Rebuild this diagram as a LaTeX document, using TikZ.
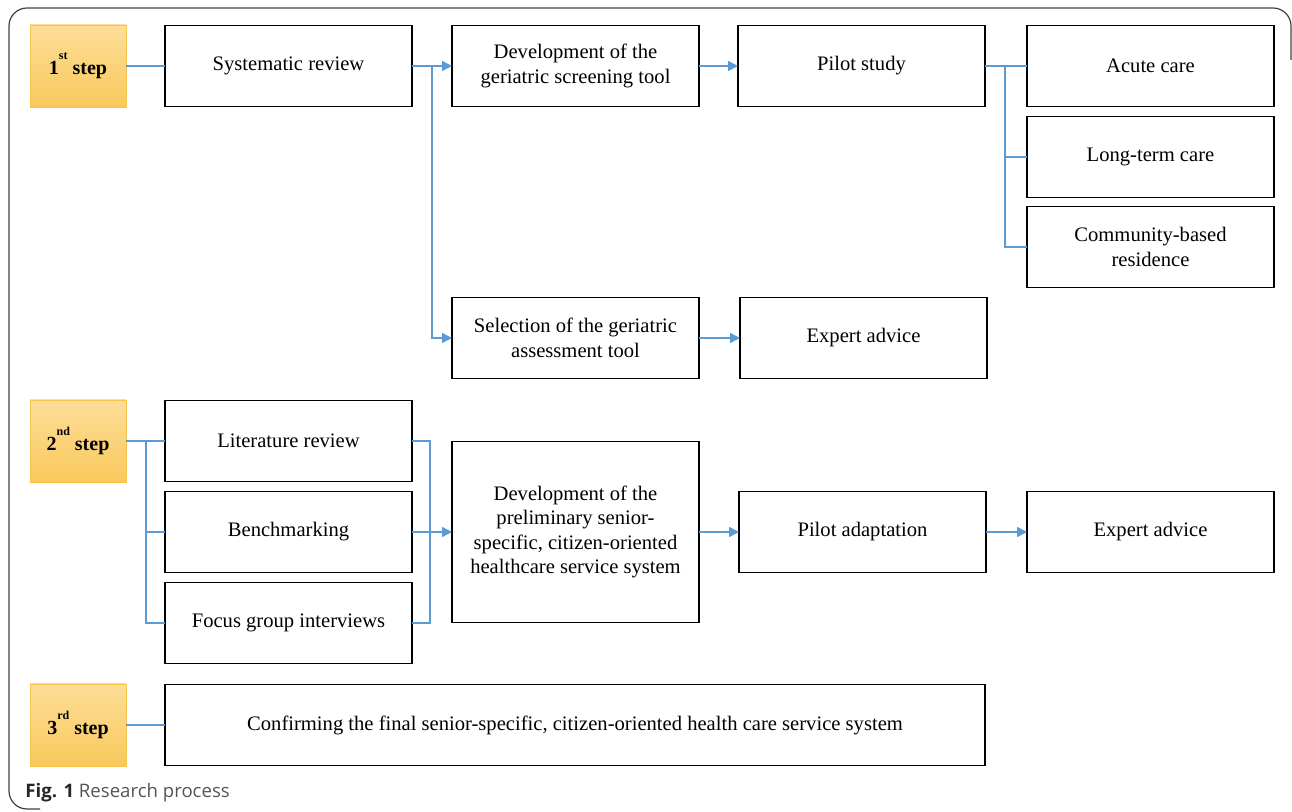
\documentclass[tikz,border=0pt]{standalone}
\usepackage{fontspec}
\setmainfont{Liberation Serif}
\newfontfamily\capfont{Open Sans}
\usetikzlibrary{positioning,arrows.meta}
\definecolor{pLine}{RGB}{91,155,213}
\definecolor{stTop}{RGB}{253,221,152}
\definecolor{stBot}{RGB}{249,201,92}
\definecolor{stLine}{RGB}{246,196,72}
\definecolor{capGray}{RGB}{85,85,85}
\tikzset{
  stepbox/.style={rectangle, draw=stLine, top color=stTop, bottom color=stBot,
                  minimum width=48pt, minimum height=41pt, align=center, outer sep=0pt,
                  font=\fontsize{10}{12}\selectfont\bfseries, inner sep=0pt},
  task/.style={rectangle, draw=black, line width=0.9pt, fill=white, outer sep=0pt,
               minimum width=123.5pt, minimum height=40.5pt, align=center,
               font=\fontsize{10.3}{12.2}\selectfont, inner sep=2pt},
  link/.style={draw=pLine, line width=0.8pt},
  flow/.style={link, -{Triangle[length=5pt,width=5pt]}},
}
\newcommand{\StepTxt}[2]{#1\raisebox{1.6ex}{\fontsize{6}{6}\selectfont #2}\ step}
\begin{document}
\begin{tikzpicture}[x=0.5pt, y=-0.5pt]
  \useasboundingbox (0,0) rectangle (1292,812);
  % --- frame --------------------------------------------------------------
  \draw[black!75, line width=0.6pt, rounded corners=9pt]
    (40,809) -- (9,809) -- (9,8) -- (1291,8) -- (1291,60);

  % --- 1st step -----------------------------------------------------------
  \node[stepbox] (step1) at (78,66) {\StepTxt{1}{st}};
  \node[task, right=19.5pt of step1] (sysrev) {Systematic review};
  \node[task, right=20pt of sysrev] (devscr) {Development of the\\ geriatric screening tool};
  \node[task, right=19.5pt of devscr] (pilot) {Pilot study};
  \node[task, right=21pt of pilot] (acute) {Acute care};
  \node[task, below=5pt of acute] (longterm) {Long-term care};
  \node[task, below=4.5pt of longterm] (commun) {Community-based\\ residence};
  \node[task, below=95.5pt of devscr] (select) {Selection of the geriatric\\ assessment tool};
  \node[task, right=20.5pt of select] (expert1) {Expert advice};

  % --- 2nd step -----------------------------------------------------------
  \node[stepbox] (step2) at (78,441) {\StepTxt{2}{nd}};
  \node[task, right=19.5pt of step2] (litrev) {Literature review};
  \node[task, below=5pt of litrev] (bench) {Benchmarking};
  \node[task, below=5pt of bench] (focus) {Focus group interviews};
  \node[task, right=20pt of bench, minimum height=90.5pt] (devpre)
    {Development of the\\ preliminary senior-\\ specific, citizen-oriented\\ healthcare service system};
  \node[task, right=20pt of devpre] (pilotad) {Pilot adaptation};
  \node[task, right=20.5pt of pilotad] (expert2) {Expert advice};

  % --- 3rd step -----------------------------------------------------------
  \node[stepbox] (step3) at (78,725) {\StepTxt{3}{rd}};
  \node[task, right=19.5pt of step3, minimum width=410pt] (confirm)
    {Confirming the final senior-specific, citizen-oriented health care service system};

  % --- caption ------------------------------------------------------------
  \node[anchor=west, inner sep=0pt, text=capGray, font=\capfont\fontsize{9.3}{11}\selectfont]
    (caption) at (25,793) {\textcolor{black!85}{\textbf{Fig. 1}} Research process};

  % --- connectors ---------------------------------------------------------
  \draw[link] (step1) -- (sysrev);
  \draw[flow] (sysrev) -- (devscr);
  \draw[flow] (sysrev.east) -- ++(10pt,0) |- (select.west);
  \draw[flow] (devscr) -- (pilot);
  \draw[link] (pilot) -- (acute);
  \draw[link] (pilot.east) -- ++(10pt,0) |- (longterm.west);
  \draw[link] (pilot.east) -- ++(10pt,0) |- (commun.west);
  \draw[flow] (select) -- (expert1);

  \draw[link] (step2) -- (litrev);
  \draw[link] (step2.east) -- ++(10pt,0) |- (bench.west);
  \draw[link] (step2.east) -- ++(10pt,0) |- (focus.west);
  \draw[link] (litrev.east) -- ++(9pt,0) |- (focus.east);
  \draw[flow] (bench) -- (devpre);
  \draw[flow] (devpre.east |- pilotad.west) -- (pilotad);
  \draw[flow] (pilotad) -- (expert2);

  \draw[link] (step3) -- (confirm);
\end{tikzpicture}
\end{document}
